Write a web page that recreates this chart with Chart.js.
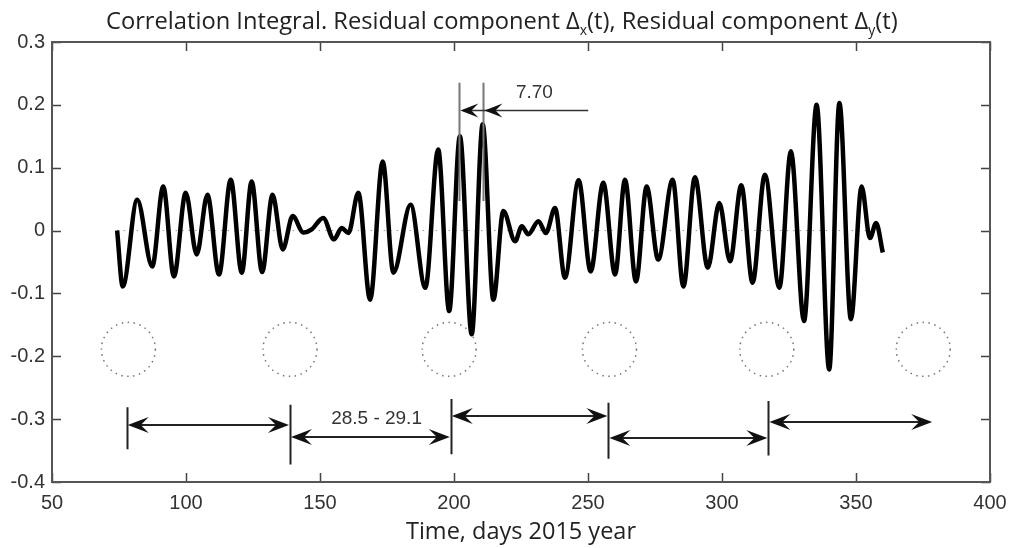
<!DOCTYPE html>
<html>
<head>
<meta charset="utf-8">
<script src="https://cdn.jsdelivr.net/npm/chart.js@4"></script>
<style>
  body { margin: 0; background: #fff; }
  #wrap { position: relative; width: 1011px; height: 548px; }
  canvas { position: absolute; left: 0; top: 0; }
  #title { position: absolute; left: 106px; top: 4px; font: 23.7px "Open Sans", sans-serif; color: #222; white-space: nowrap; }
  #title sub { font-size: 14px; vertical-align: -6px; line-height: 0; }
</style>
</head>
<body>
<div id="wrap">
  <canvas id="chart" width="1011" height="548"></canvas>
  <div id="title">Correlation Integral. Residual component Δ<sub>x</sub>(t), Residual component Δ<sub>y</sub>(t)</div>
</div>
<script>
// residual signal, read at its peaks and troughs
const sigX = [74.3, 76.4, 81.8, 87.4, 91.5, 95.5, 99.9, 104.0, 108.0, 112.3, 116.7, 120.8, 124.5, 128.4,
  132.3, 136.1, 139.8, 143.8, 146.9, 151.2, 155.2, 158.1, 160.6, 164.3, 168.7, 173.4, 177.4, 183.8,
  189.3, 194.1, 198.2, 202.2, 206.6, 210.7, 214.7, 218.4, 222.8, 225.3, 227.7, 231.5, 234.3, 237.7,
  241.4, 246.5, 251.0, 255.7, 260.1, 263.8, 267.9, 271.9, 276.2, 281.6, 285.6, 289.9, 294.7, 299.0,
  303.0, 307.2, 311.4, 316.0, 321.4, 325.7, 330.6, 335.3, 340.0, 343.8, 348.1, 352.1, 355.2, 357.5, 360.0];
const sigY = [0.000, -0.089, 0.049, -0.057, 0.070, -0.073, 0.060, -0.038, 0.057, -0.070, 0.081, -0.067, 0.078, -0.066,
  0.057, -0.030, 0.023, -0.003, 0.002, 0.020, -0.014, 0.004, -0.004, 0.060, -0.110, 0.110, -0.067, 0.041,
  -0.091, 0.129, -0.128, 0.150, -0.165, 0.169, -0.110, 0.031, -0.017, 0.007, -0.006, 0.015, -0.004, 0.036,
  -0.075, 0.080, -0.065, 0.076, -0.070, 0.081, -0.081, 0.070, -0.046, 0.081, -0.089, 0.085, -0.059, 0.044,
  -0.049, 0.072, -0.083, 0.089, -0.091, 0.126, -0.144, 0.200, -0.221, 0.203, -0.141, 0.070, -0.012, 0.012, -0.035];

// zero reference
const zeroX = [74.3, 360.0];

// dotted circles
const circleX = [78.5, 138.8, 198.2, 258.0, 316.7, 375.1];
const circleY = -0.189;

// bottom dimension marks
const markX = [77.9, 138.8, 198.8, 257.6, 317.3];
const markTop = [-0.281, -0.277, -0.268, -0.274, -0.271];
const markBot = [-0.348, -0.372, -0.356, -0.363, -0.358];
const spanFrom = [77.9, 138.8, 198.8, 257.6, 317.3];
const spanTo = [138.8, 198.8, 257.6, 317.3, 378.8];
const spanY = [-0.310, -0.328, -0.295, -0.330, -0.305];
const spanLabel = { text: "28.5 - 29.1", x: 171.1, y: -0.300 };

// top "7.70" mark
const peakMarkX = [202.0, 211.0];
const peakMarkTop = 0.235, peakMarkBot = 0.047;
const peakArrowY = 0.192, peakArrowEnd = 250.1;
const peakLabel = { text: "7.70", x: 230.0, y: 0.219 };

const xTicks = [50, 100, 150, 200, 250, 300, 350, 400];
const yTicks = [-0.4, -0.3, -0.2, -0.1, 0, 0.1, 0.2, 0.3];

function head(ctx, x, y, dir, L, W, N) {
  ctx.beginPath();
  ctx.moveTo(x, y);
  ctx.lineTo(x - dir * L, y - W);
  ctx.lineTo(x - dir * N, y);
  ctx.lineTo(x - dir * L, y + W);
  ctx.closePath();
  ctx.fill();
}

const dotted = {
  id: 'dotted',
  beforeDatasetDraw(chart, args) {
    if (chart.data.datasets[args.index].label === 'circles') {
      chart.ctx.save();
      chart.ctx.setLineDash([1.5, 4.5]);
    }
  },
  afterDatasetDraw(chart, args) {
    if (chart.data.datasets[args.index].label === 'circles') chart.ctx.restore();
  }
};

const notes = {
  id: 'notes',
  afterDatasetsDraw(chart) {
    const { ctx, scales: { x, y } } = chart;
    ctx.save();
    ctx.fillStyle = '#111';
    ctx.strokeStyle = '#222';
    ctx.lineWidth = 2;

    // bottom marks and spans
    ctx.beginPath();
    markX.forEach((v, i) => {
      const px = Math.round(x.getPixelForValue(v)) + 0.5;
      ctx.moveTo(px, y.getPixelForValue(markTop[i]));
      ctx.lineTo(px, y.getPixelForValue(markBot[i]));
    });
    spanFrom.forEach((v, i) => {
      const py = Math.round(y.getPixelForValue(spanY[i]));
      ctx.moveTo(x.getPixelForValue(v) + 8, py);
      ctx.lineTo(x.getPixelForValue(spanTo[i]) - 8, py);
    });
    ctx.stroke();
    spanFrom.forEach((v, i) => {
      const py = Math.round(y.getPixelForValue(spanY[i]));
      head(ctx, x.getPixelForValue(v) + 1, py, -1, 21, 8, 13);
      head(ctx, x.getPixelForValue(spanTo[i]) - 1, py, 1, 21, 8, 13);
    });

    ctx.font = '19px "Liberation Sans", Arial, sans-serif';
    ctx.fillStyle = '#333';
    ctx.textAlign = 'center';
    ctx.textBaseline = 'middle';
    ctx.fillText(spanLabel.text, x.getPixelForValue(spanLabel.x), y.getPixelForValue(spanLabel.y));

    // top 7.70 mark
    ctx.strokeStyle = '#777';
    ctx.lineWidth = 2;
    ctx.beginPath();
    peakMarkX.forEach(v => {
      const px = Math.round(x.getPixelForValue(v)) + 0.5;
      ctx.moveTo(px, y.getPixelForValue(peakMarkTop));
      ctx.lineTo(px, y.getPixelForValue(peakMarkBot));
    });
    ctx.stroke();
    const ay = Math.round(y.getPixelForValue(peakArrowY)) + 0.5;
    ctx.strokeStyle = '#333';
    ctx.lineWidth = 1.5;
    ctx.beginPath();
    ctx.moveTo(x.getPixelForValue(peakMarkX[0]) + 4, ay);
    ctx.lineTo(x.getPixelForValue(peakArrowEnd), ay);
    ctx.stroke();
    ctx.fillStyle = '#111';
    peakMarkX.forEach(v => head(ctx, x.getPixelForValue(v) + 1, ay, -1, 18, 7, 11));
    ctx.fillStyle = '#333';
    ctx.fillText(peakLabel.text, x.getPixelForValue(peakLabel.x), y.getPixelForValue(peakLabel.y));
    ctx.restore();
  }
};

const frame = {
  id: 'frame',
  afterDraw(chart) {
    const { ctx, chartArea: a, scales: { x, y } } = chart;
    ctx.save();
    ctx.strokeStyle = '#444';
    ctx.lineWidth = 1.5;
    ctx.beginPath();
    x.ticks.forEach(t => {
      const px = Math.round(x.getPixelForValue(t.value)) + 0.5;
      ctx.moveTo(px, a.bottom); ctx.lineTo(px, a.bottom - 9);
      ctx.moveTo(px, a.top); ctx.lineTo(px, a.top + 9);
    });
    y.ticks.forEach(t => {
      const py = Math.round(y.getPixelForValue(t.value)) + 0.5;
      ctx.moveTo(a.left, py); ctx.lineTo(a.left + 9, py);
      ctx.moveTo(a.right, py); ctx.lineTo(a.right - 9, py);
    });
    ctx.stroke();
    ctx.lineWidth = 2;
    ctx.strokeStyle = '#555';
    ctx.strokeRect(a.left, a.top, a.right - a.left, a.bottom - a.top);
    ctx.restore();
  }
};

new Chart(document.getElementById('chart'), {
  type: 'line',
  data: {
    datasets: [
      {
        label: 'residual',
        data: sigX.map((v, i) => ({ x: v, y: sigY[i] })),
        borderColor: '#000',
        borderWidth: 4.5,
        pointRadius: 0,
        cubicInterpolationMode: 'monotone',
        order: 0
      },
      {
        label: 'zero',
        data: zeroX.map(v => ({ x: v, y: 0 })),
        borderColor: '#999',
        borderWidth: 1,
        borderDash: [1.5, 5],
        pointRadius: 0,
        order: 1
      },
      {
        label: 'circles',
        data: circleX.map(v => ({ x: v, y: circleY })),
        showLine: false,
        pointRadius: 27,
        pointBorderWidth: 1.5,
        pointBorderColor: '#777',
        pointBackgroundColor: 'rgba(0,0,0,0)',
        order: 2
      }
    ]
  },
  options: {
    responsive: false,
    animation: false,
    events: [],
    layout: { autoPadding: false, padding: { top: 42, right: 21, left: 0, bottom: 0 } },
    plugins: { legend: { display: false }, tooltip: { enabled: false } },
    scales: {
      x: {
        type: 'linear',
        min: 50, max: 400,
        afterBuildTicks: s => { s.ticks = xTicks.map(v => ({ value: v })); },
        afterFit: s => { s.height = 66; s.paddingLeft = 0; s.paddingRight = 0; },
        grid: { display: false, drawTicks: false },
        border: { display: false },
        ticks: { padding: 9, color: '#333', font: { family: '"Liberation Sans", Arial, sans-serif', size: 20 } },
        title: {
          display: true,
          text: 'Time, days 2015 year',
          color: '#222',
          font: { family: '"Open Sans", sans-serif', size: 23.5 },
          padding: { top: 0, bottom: 2 }
        }
      },
      y: {
        min: -0.4, max: 0.3,
        afterBuildTicks: s => { s.ticks = yTicks.map(v => ({ value: v })); },
        afterFit: s => { s.width = 52; s.paddingTop = 0; s.paddingBottom = 0; },
        grid: { display: false, drawTicks: false },
        border: { display: false },
        ticks: {
          padding: 7,
          color: '#333',
          font: { family: '"Liberation Sans", Arial, sans-serif', size: 20 },
          callback: v => String(Number(v.toFixed(1)))
        }
      }
    }
  },
  plugins: [dotted, notes, frame]
});
</script>
</body>
</html>
